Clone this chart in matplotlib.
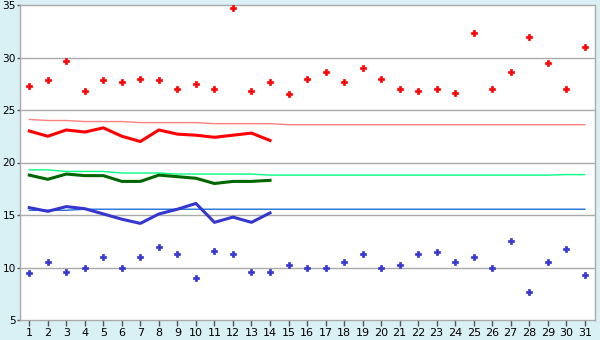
import numpy as np
import matplotlib
matplotlib.use("Agg")
import matplotlib.pyplot as plt

# Daily values, days 1..31
days = list(range(1, 32))

t_max = [27.3, 27.9, 29.7, 26.8, 27.9, 27.7, 28.0, 27.9, 27.0, 27.5,
         27.0, 34.7, 26.8, 27.7, 26.5, 28.0, 28.6, 27.7, 29.0, 28.0,
         27.0, 26.8, 27.0, 26.6, 32.3, 27.0, 28.6, 32.0, 29.5, 27.0, 31.0]

t_min = [9.5, 10.5, 9.6, 10.0, 11.0, 10.0, 11.0, 12.0, 11.3, 9.0,
         11.6, 11.3, 9.6, 9.6, 10.2, 10.0, 10.0, 10.5, 11.3, 10.0,
         10.2, 11.3, 11.5, 10.5, 11.0, 10.0, 12.5, 7.7, 10.5, 11.8, 9.3]

# running averages (first 14 days only)
days_avg = list(range(1, 15))
avg_max = [23.0, 22.5, 23.1, 22.9, 23.3, 22.5, 22.0, 23.1, 22.7, 22.6,
           22.4, 22.6, 22.8, 22.1]
avg_mean = [18.8, 18.4, 18.9, 18.75, 18.75, 18.2, 18.2, 18.8, 18.65, 18.5,
            18.0, 18.2, 18.2, 18.3]
avg_min = [15.7, 15.35, 15.8, 15.6, 15.1, 14.6, 14.2, 15.1, 15.55, 16.1,
           14.3, 14.8, 14.3, 15.2]

# climatological normals
norm_max = [24.1, 24.0, 24.0, 23.9, 23.9, 23.9, 23.8, 23.8, 23.8, 23.8,
            23.7, 23.7, 23.7, 23.7] + [23.6] * 17
norm_mean = [19.3, 19.3, 19.15, 19.15, 19.15, 19.0, 19.0, 19.0, 18.9, 18.9,
             18.9, 18.9, 18.9] + [18.8] * 16 + [18.85, 18.85]
norm_min = [15.45, 15.45, 15.45] + [15.55] * 28

BG = '#D9F0F5'
GRID = '#AAAAAA'

fig = plt.figure(figsize=(6, 3.4), dpi=100, facecolor=BG)
ax = fig.add_axes([20 / 600, 20 / 340, 575 / 600, 315 / 340])
ax.set_facecolor('white')

for y in [10, 15, 20, 25, 30]:
    ax.axhline(y, color=GRID, lw=1.0, zorder=1)

ax.plot(days, norm_max, color='#FF8080', lw=1.0, zorder=2)
ax.plot(days, norm_mean, color='#00FF80', lw=1.0, zorder=2)
ax.plot(days, norm_min, color='#1E6FD8', lw=1.0, zorder=2)

ax.plot(days_avg, avg_max, color='#FF0000', lw=2.2, zorder=3)
ax.plot(days_avg, avg_mean, color='#006600', lw=2.2, zorder=3)
ax.plot(days_avg, avg_min, color='#3535D0', lw=2.2, zorder=3)

ax.plot(days, t_max, ls='none', marker='P', ms=4.5, color='#FF0000',
        mec='#FF0000', mew=0.5, zorder=4)
ax.plot(days, t_min, ls='none', marker='P', ms=4.5, color='#3535D0',
        mec='#3535D0', mew=0.5, zorder=4)

ax.set_xlim(0.5, 31.55)
ax.set_ylim(5, 35)
ax.set_xticks(days)
ax.set_yticks([5, 10, 15, 20, 25, 30, 35])
ax.tick_params(axis='both', colors='#555555', labelcolor='black',
               labelsize=8, width=1)
ax.tick_params(axis='x', length=4, pad=2)
ax.tick_params(axis='y', length=2, pad=1, labelsize=7.6)

for s in ax.spines.values():
    s.set_color(GRID)
    s.set_linewidth(1.0)

fig.savefig('out.png', dpi=100, facecolor=BG)
